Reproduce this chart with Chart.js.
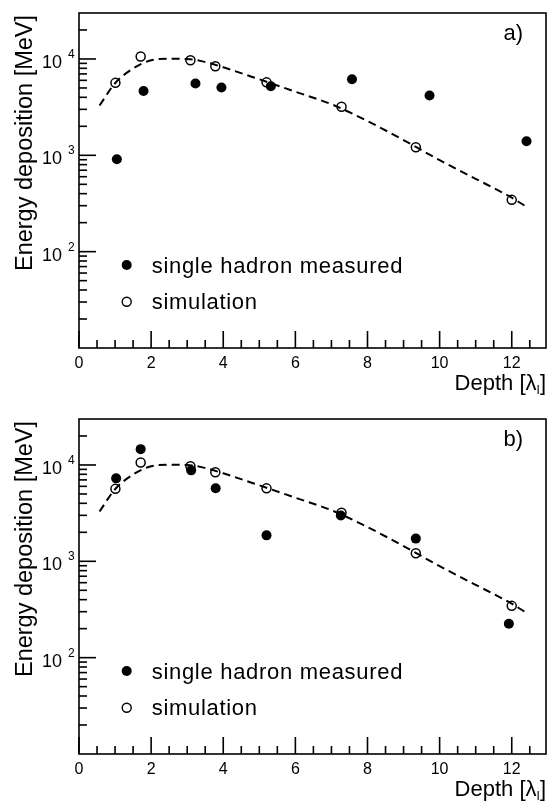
<!DOCTYPE html>
<html>
<head>
<meta charset="utf-8">
<script src="https://cdn.jsdelivr.net/npm/chart.js@4.4.0/dist/chart.umd.min.js"></script>
<style>
    html, body { margin: 0; padding: 0; background: #fff; }
    .panel { position: relative; width: 552px; height: 401px; }
</style>
</head>
<body>
<div class="panel"><canvas id="panelA" width="552" height="401"></canvas></div>
<div class="panel"><canvas id="panelB" width="552" height="401"></canvas></div>
<script>
// depth in interaction lengths, energy in MeV
const depthMeasuredA = [1.05, 1.79, 3.23, 3.95, 5.32, 7.57, 9.72, 12.41];
const energyMeasuredA = [910, 4660, 5560, 5050, 5210, 6150, 4170, 1400];

const depthMeasuredB = [1.03, 1.71, 3.11, 3.79, 5.20, 7.26, 9.34, 11.92];
const energyMeasuredB = [7260, 14600, 8790, 5730, 1860, 2990, 1720, 225];

const depthSimulation = [1.01, 1.71, 3.09, 3.78, 5.20, 7.28, 9.34, 12.0];
const energySimulation = [5650, 10600, 9680, 8400, 5720, 3190, 1210, 345];

const depthCurve = [0.57, 1.0, 1.5, 2.0, 2.5, 3.0, 3.5, 4.0, 5.0, 6.0, 7.0, 8.0, 9.0, 10.0, 11.0, 12.0, 12.41];
const energyCurve = [3290, 5600, 7950, 9700, 10050, 10000, 9300, 8190, 6150, 4570, 3390, 2265, 1440, 890, 570, 363, 292];

const xMajorTicks = [0, 2, 4, 6, 8, 10, 12];
const xMinorTicks = [0.5, 1, 1.5, 2.5, 3, 3.5, 4.5, 5, 5.5, 6.5, 7, 7.5, 8.5, 9, 9.5, 10.5, 11, 11.5, 12.5];
const yMajorExponents = [2, 3, 4];
const yMinorTicks = [20, 30, 40, 50, 60, 70, 80, 90, 200, 300, 400, 500, 600, 700, 800, 900,
    2000, 3000, 4000, 5000, 6000, 7000, 8000, 9000, 20000];

const legendLabels = ["single hadron measured", "simulation"];

const FONT = "'Liberation Sans', Arial, Helvetica, sans-serif";

function toPoints(xs, ys) {
    return xs.map(function (x, i) { return { x: x, y: ys[i] }; });
}

// frame, inward ticks, labels and legend, drawn from the chart's own scales
const framePlugin = {
    id: "frame",
    afterDraw: function (chart, args, opts) {
        const ctx = chart.ctx;
        const area = chart.chartArea;
        const xs = chart.scales.x;
        const ys = chart.scales.y;
        ctx.save();
        ctx.setLineDash([]);
        ctx.strokeStyle = "#000";
        ctx.fillStyle = "#000";

        ctx.lineWidth = 1.6;
        ctx.strokeRect(area.left, area.top, area.right - area.left, area.bottom - area.top);

        const bottom = area.bottom;
        const left = area.left;
        xMajorTicks.forEach(function (v) {
            const px = xs.getPixelForValue(v);
            ctx.fillRect(px - 0.8, bottom - 17, 1.6, 17);
        });
        xMinorTicks.forEach(function (v) {
            const px = xs.getPixelForValue(v);
            ctx.fillRect(px - 0.8, bottom - 8, 1.6, 8);
        });
        yMajorExponents.forEach(function (e) {
            const py = ys.getPixelForValue(Math.pow(10, e));
            ctx.fillRect(left, py - 0.8, 17, 1.6);
        });
        yMinorTicks.forEach(function (v) {
            const py = ys.getPixelForValue(v);
            ctx.fillRect(left, py - 0.8, 8, 1.6);
        });

        // x tick labels
        ctx.font = "16px " + FONT;
        ctx.textAlign = "center";
        ctx.textBaseline = "alphabetic";
        xMajorTicks.forEach(function (v) {
            ctx.fillText(String(v), xs.getPixelForValue(v), bottom + 20);
        });

        // y tick labels 10^n
        yMajorExponents.forEach(function (e) {
            const py = ys.getPixelForValue(Math.pow(10, e));
            ctx.font = "18px " + FONT;
            ctx.textAlign = "right";
            ctx.fillText("10", 62, py + 9);
            ctx.font = "12px " + FONT;
            ctx.textAlign = "left";
            ctx.fillText(String(e), 68, py - 1);
        });

        // x title: Depth [lambda_I]
        ctx.font = "22px " + FONT;
        ctx.textAlign = "left";
        const base = bottom + 42;
        const t1 = "Depth [\u03bb";
        const w1 = ctx.measureText(t1).width;
        ctx.font = "12px " + FONT;
        const w2 = ctx.measureText("I").width;
        ctx.font = "22px " + FONT;
        const w3 = ctx.measureText("]").width;
        const x0 = area.right - (w1 + w2 + w3);
        ctx.fillText(t1, x0, base);
        ctx.font = "12px " + FONT;
        ctx.fillText("I", x0 + w1, base + 4);
        ctx.font = "22px " + FONT;
        ctx.fillText("]", x0 + w1 + w2, base);

        // y title
        ctx.save();
        ctx.translate(32, area.top + 130);
        ctx.rotate(-Math.PI / 2);
        ctx.font = "23.5px " + FONT;
        ctx.textAlign = "center";
        ctx.fillText("Energy deposition [MeV]", 0, 0);
        ctx.restore();

        // panel label
        ctx.font = "22px " + FONT;
        ctx.textAlign = "right";
        ctx.fillText(opts.label, area.right - 23, area.top + 27);

        // legend
        const lx = 126.7;
        const ly = area.top + 252;
        ctx.beginPath();
        ctx.arc(lx, ly, 5, 0, Math.PI * 2);
        ctx.fill();
        ctx.beginPath();
        ctx.lineWidth = 1.4;
        ctx.arc(lx, ly + 36.7, 4.5, 0, Math.PI * 2);
        ctx.stroke();
        ctx.font = "22px " + FONT;
        ctx.letterSpacing = "0.7px";
        ctx.textAlign = "left";
        ctx.fillText(legendLabels[0], 151.7, ly + 7.7);
        ctx.fillText(legendLabels[1], 151.7, ly + 36.7 + 7.6);

        ctx.restore();
    }
};

function makePanel(canvasId, label, depthMeasured, energyMeasured, padTop, padBottom) {
    const canvas = document.getElementById(canvasId);
    new Chart(canvas, {
        type: "scatter",
        data: {
            datasets: [
                {
                    label: legendLabels[0],
                    data: toPoints(depthMeasured, energyMeasured),
                    backgroundColor: "#000",
                    borderWidth: 0,
                    pointRadius: 5,
                },
                {
                    label: legendLabels[1],
                    data: toPoints(depthSimulation, energySimulation),
                    backgroundColor: "rgba(0,0,0,0)",
                    borderColor: "#000",
                    borderWidth: 1.5,
                    pointRadius: 4.5,
                },
                {
                    label: "fit",
                    type: "line",
                    data: toPoints(depthCurve, energyCurve),
                    borderColor: "#000",
                    borderWidth: 2,
                    borderDash: [8, 5],
                    pointRadius: 0,
                    fill: false,
                    cubicInterpolationMode: "monotone",
                },
            ],
        },
        options: {
            responsive: false,
            animation: false,
            layout: {
                padding: { left: 79, right: 1, top: padTop, bottom: padBottom },
            },
            plugins: {
                legend: { display: false },
                tooltip: { enabled: false },
                frame: { label: label },
            },
            scales: {
                x: {
                    type: "linear",
                    display: false,
                    min: 0,
                    max: 12.95,
                },
                y: {
                    type: "logarithmic",
                    display: false,
                    min: 10,
                    max: 30000,
                },
            },
        },
        plugins: [framePlugin],
    });
}

makePanel("panelA", "a)", depthMeasuredA, energyMeasuredA, 13, 53);
makePanel("panelB", "b)", depthMeasuredB, energyMeasuredB, 18, 48);
</script>
</body>
</html>
